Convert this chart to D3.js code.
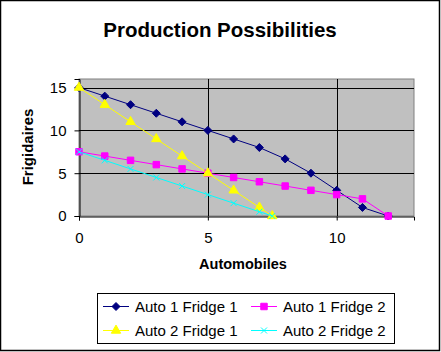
<!DOCTYPE html>
<html>
<head>
<meta charset="utf-8">
<script src="https://cdn.jsdelivr.net/npm/d3@7"></script>
<style>
  body { margin: 0; background: #fff; }
  text { font-family: Arial, "Liberation Sans", sans-serif; }
</style>
</head>
<body>
<div id="vis"></div>
<script>
var width = 441, height = 352;

// data
var seriesNames = ["Auto 1 Fridge 1", "Auto 1 Fridge 2", "Auto 2 Fridge 1", "Auto 2 Fridge 2"];
var seriesColors = ["#000080", "#ff00ff", "#ffff00", "#00ffff"];
var seriesMarkers = ["diamond", "square", "triangle", "cross"];

var auto1X = [0, 1, 2, 3, 4, 5, 6, 7, 8, 9, 10, 11, 12];
var auto1Fridge1 = [15, 14, 13, 12, 11, 10, 9, 8, 6.67, 5, 3, 1, 0];
var auto1Fridge2 = [7.5, 7, 6.5, 6, 5.5, 5, 4.5, 4, 3.5, 3, 2.5, 2, 0];
var auto2X = [0, 1, 2, 3, 4, 5, 6, 7, 7.5];
var auto2Fridge1 = [15, 13, 11, 9, 7, 5, 3, 1, 0];
var auto2Fridge2 = [7.5, 6.5, 5.5, 4.5, 3.5, 2.5, 1.5, 0.5, 0];

var xTicks = [0, 5, 10];
var yTicks = [0, 5, 10, 15];

var series = [
  { x: auto1X, y: auto1Fridge1 },
  { x: auto1X, y: auto1Fridge2 },
  { x: auto2X, y: auto2Fridge1 },
  { x: auto2X, y: auto2Fridge2 }
].map(function(s, i) {
  return {
    name: seriesNames[i],
    color: seriesColors[i],
    marker: seriesMarkers[i],
    points: s.x.map(function(v, j) { return { x: v, y: s.y[j] }; })
  };
});

var svg = d3.select("#vis").append("svg")
  .attr("width", width)
  .attr("height", height);

// outer chart border
svg.append("rect")
  .attr("x", 0.5).attr("y", 0.5)
  .attr("width", width - 2).attr("height", height - 2)
  .style("fill", "#fff").style("stroke", "#000").attr("stroke-width", 1.5);

var plot = { left: 79, right: 414, top: 79, bottom: 216 };

var x = d3.scaleLinear().domain([0, 13]).range([plot.left, plot.right]);
var y = d3.scaleLinear().domain([0, 16]).range([plot.bottom, plot.top]);

// plot area
svg.append("rect")
  .attr("x", plot.left).attr("y", plot.top)
  .attr("width", plot.right - plot.left).attr("height", plot.bottom - plot.top)
  .style("fill", "#c0c0c0").style("stroke", "#808080").attr("stroke-width", 1);

// gridlines
svg.append("g").selectAll("line")
  .data(yTicks.filter(function(d) { return d > 0; }))
  .enter().append("line")
  .attr("x1", plot.left).attr("x2", plot.right)
  .attr("y1", function(d) { return Math.round(y(d)) + 0.5; })
  .attr("y2", function(d) { return Math.round(y(d)) + 0.5; })
  .style("stroke", "#000");

svg.append("g").selectAll("line")
  .data(xTicks.filter(function(d) { return d > 0; }))
  .enter().append("line")
  .attr("x1", function(d) { return Math.round(x(d)) + 0.5; })
  .attr("x2", function(d) { return Math.round(x(d)) + 0.5; })
  .attr("y1", plot.top).attr("y2", plot.bottom)
  .style("stroke", "#000");

// axes
var xAxis = svg.append("g")
  .attr("transform", "translate(0," + (plot.bottom + 0.5) + ")")
  .call(d3.axisBottom(x).tickValues(xTicks).tickSize(4).tickPadding(12));
var yAxis = svg.append("g")
  .attr("transform", "translate(" + (plot.left + 0.5) + ",0)")
  .call(d3.axisLeft(y).tickValues(yTicks).tickSize(5).tickPadding(8));

[xAxis, yAxis].forEach(function(a) {
  a.select(".domain").style("stroke", "#000");
  a.selectAll(".tick line").style("stroke", "#000");
  a.selectAll(".tick text")
    .style("font-family", "Arial, 'Liberation Sans', sans-serif")
    .style("font-size", "15px").style("fill", "#000");
});

// lines and markers
var line = d3.line()
  .x(function(d) { return x(d.x); })
  .y(function(d) { return y(d.y); });

function markerPath(type) {
  if (type === "diamond") return "M0,-4L4,0L0,4L-4,0Z";
  if (type === "square") return d3.symbol().type(d3.symbolSquare).size(42)();
  if (type === "triangle") return d3.symbol().type(d3.symbolTriangle).size(38)();
  return "M-3,-3L3,3M-3,3L3,-3";
}

series.forEach(function(s) {
  var g = svg.append("g");
  g.append("path")
    .datum(s.points)
    .attr("d", line)
    .style("fill", "none")
    .style("stroke", s.color)
    .attr("stroke-width", 1);
  g.selectAll(".mk")
    .data(s.points)
    .enter().append("path")
    .attr("class", "mk")
    .attr("transform", function(d) { return "translate(" + x(d.x) + "," + y(d.y) + ")"; })
    .attr("d", markerPath(s.marker))
    .style("fill", s.marker === "cross" ? "none" : s.color)
    .style("stroke", s.color)
    .attr("stroke-width", 1);
});

// titles
svg.append("text")
  .attr("x", 220).attr("y", 37)
  .attr("text-anchor", "middle")
  .style("font-size", "20.5px").style("font-weight", "bold")
  .text("Production Possibilities");

svg.append("text")
  .attr("x", 243).attr("y", 269)
  .attr("text-anchor", "middle")
  .style("font-size", "14.5px").style("font-weight", "bold")
  .text("Automobiles");

svg.append("text")
  .attr("transform", "translate(33,147) rotate(-90)")
  .attr("text-anchor", "middle")
  .style("font-size", "15px").style("font-weight", "bold")
  .text("Frigidaires");

// legend
var legend = svg.append("g");
legend.append("rect")
  .attr("x", 97.5).attr("y", 293.5)
  .attr("width", 297).attr("height", 50)
  .style("fill", "#fff").style("stroke", "#000");

var legendItems = legend.selectAll(".item")
  .data(series)
  .enter().append("g")
  .attr("class", "item")
  .attr("transform", function(d, i) {
    return "translate(" + (103 + (i % 2) * 148) + "," + (306 + Math.floor(i / 2) * 24) + ")";
  });

legendItems.append("line")
  .attr("x1", 0).attr("x2", 26)
  .attr("y1", 0.5).attr("y2", 0.5)
  .style("stroke", function(d) { return d.color; });
legendItems.append("path")
  .attr("transform", "translate(13,0.5)")
  .attr("d", function(d) { return markerPath(d.marker); })
  .style("fill", function(d) { return d.marker === "cross" ? "none" : d.color; })
  .style("stroke", function(d) { return d.color; });
legendItems.append("text")
  .attr("x", 32).attr("y", 5.5)
  .style("font-size", "15px")
  .text(function(d) { return d.name; });
</script>
</body>
</html>
